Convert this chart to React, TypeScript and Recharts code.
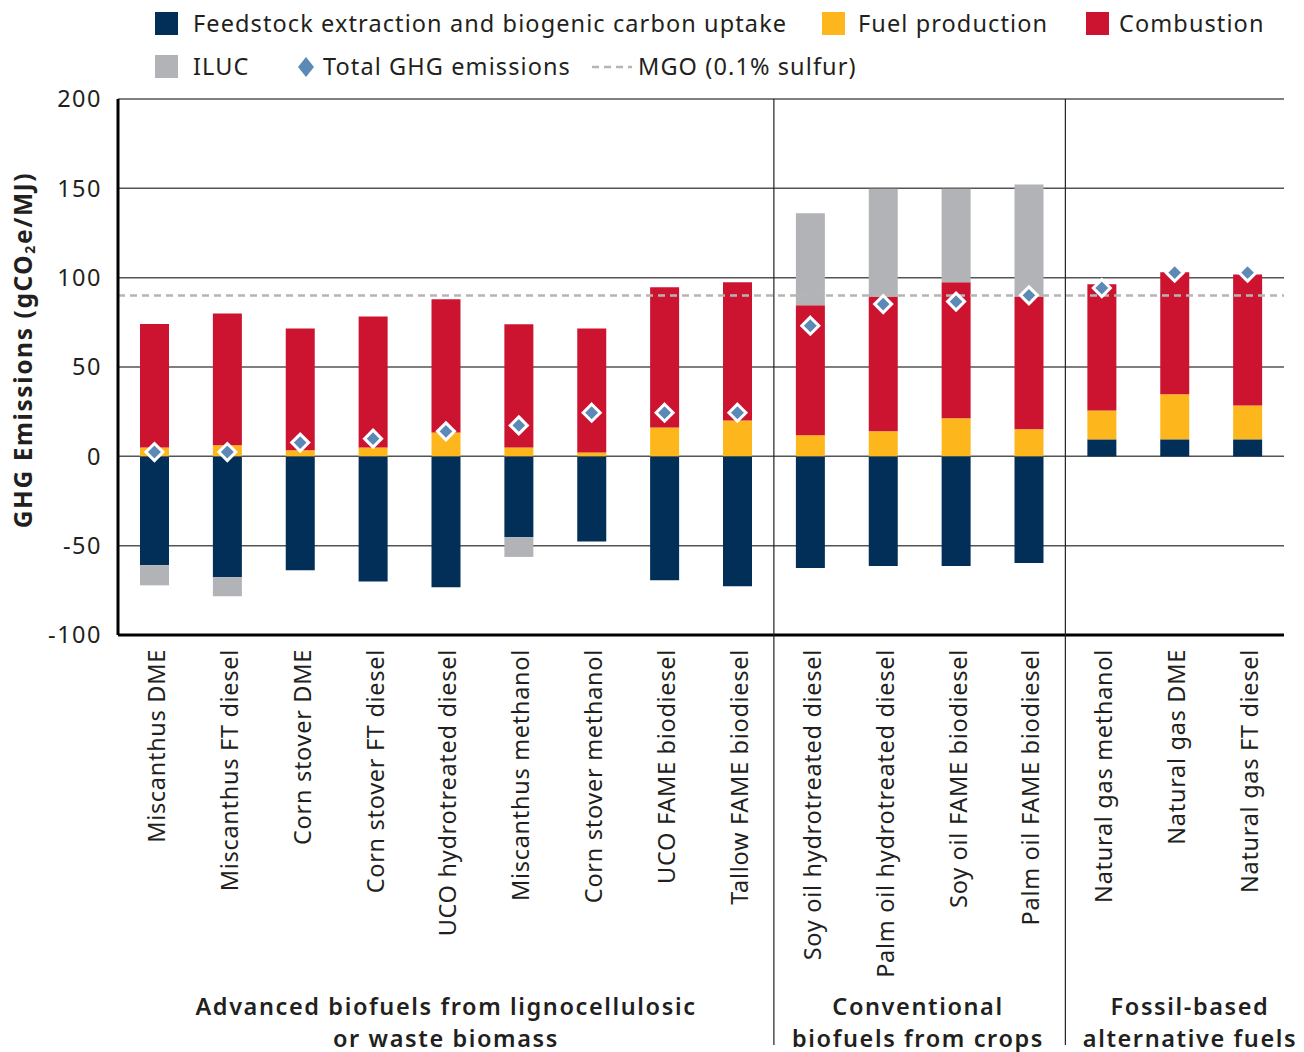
import React from 'react';
import {
  ComposedChart,
  Bar,
  Line,
  XAxis,
  YAxis,
  CartesianGrid,
  ReferenceLine,
} from 'recharts';

const categories = [
  'Miscanthus DME',
  'Miscanthus FT diesel',
  'Corn stover DME',
  'Corn stover FT diesel',
  'UCO hydrotreated diesel',
  'Miscanthus methanol',
  'Corn stover methanol',
  'UCO FAME biodiesel',
  'Tallow FAME biodiesel',
  'Soy oil hydrotreated diesel',
  'Palm oil hydrotreated diesel',
  'Soy oil FAME biodiesel',
  'Palm oil FAME biodiesel',
  'Natural gas methanol',
  'Natural gas DME',
  'Natural gas FT diesel',
];

const feedstock = [-61, -67.7, -63.8, -70, -73.3, -45.3, -47.6, -69.4, -72.7, -62.5, -61.4, -61.4, -59.7, 9.5, 9.5, 9.5];
const fuelProduction = [5, 6.2, 3.4, 5, 13.4, 5, 2.2, 16.2, 20.1, 11.8, 14, 21.3, 15.1, 16.2, 25.2, 19];
const combustion = [69, 73.8, 68.2, 73.3, 74.5, 68.9, 69.4, 78.4, 77.3, 72.7, 75.5, 76.1, 74.4, 70.6, 68.3, 73.3];
const iluc = [-11.2, -10.6, 0, 0, 0, -11, 0, 0, 0, 51.5, 60.3, 52.4, 62.7, 0, 0, 0];
const totalGhg = [2.4, 2.4, 7.7, 9.9, 14, 17.3, 24.4, 24.4, 24.4, 73.1, 85.2, 86.6, 90.1, 94.2, 102.8, 102.8];

const yTicks = [-100, -50, 0, 50, 100, 150, 200];
const mgoLevel = 90;

// index of the last category in each group
const groupEnds = [8, 12];
const groupLabels = [
  ['Advanced biofuels from lignocellulosic', 'or waste biomass'],
  ['Conventional', 'biofuels from crops'],
  ['Fossil-based', 'alternative fuels'],
];
const groupCenters = [446, 918, 1190];

const NAVY = '#022f58';
const YELLOW = '#fdb71c';
const RED = '#cc1430';
const GREY = '#b1b3b6';
const DIAMOND = '#5b8ab6';
const FONT = '"Noto Sans", sans-serif';
const TEXT = '#231f20';

const W = 1304;
const H = 1052;
const margin = { top: 99, right: 20, bottom: 0, left: 0 };
const yAxisWidth = 118;
const xAxisHeight = 417;
const plotWidth = W - margin.left - margin.right - yAxisWidth;

const chartData = categories.map((name, i) => ({
  name,
  feedstock: feedstock[i],
  fuel: fuelProduction[i],
  combustion: combustion[i],
  iluc: iluc[i],
  total: totalGhg[i],
}));

const Diamond = (props: any) => {
  const { cx, cy, index } = props;
  if (cx == null || cy == null) return null;
  const r = 8.5;
  return (
    <path
      key={`d-${index}`}
      d={`M${cx},${cy - r} L${cx + r},${cy} L${cx},${cy + r} L${cx - r},${cy} Z`}
      fill={DIAMOND}
      stroke="#fff"
      strokeWidth={3}
    />
  );
};

const CategoryTick = (props: any) => {
  const { x, y, payload, index } = props;
  const half = plotWidth / categories.length / 2;
  return (
    <g>
      <text
        transform={`translate(${x + 2},${y + 6}) rotate(-90)`}
        textAnchor="end"
        dy="0.36em"
        fontSize={23.5}
        letterSpacing={0.7}
        fontFamily={FONT}
        fill={TEXT}
      >
        {payload.value}
      </text>
      {groupEnds.includes(index) && (
        <line
          x1={x + half}
          x2={x + half}
          y1={margin.top}
          y2={1045}
          stroke="#222"
          strokeWidth={1.2}
        />
      )}
    </g>
  );
};

const ValueTick = (props: any) => {
  const { x, y, payload } = props;
  return (
    <text
      x={x - 8}
      y={y}
      dy="0.36em"
      textAnchor="end"
      fontSize={23.5}
      letterSpacing={1.5}
      fontFamily={FONT}
      fill={TEXT}
    >
      {payload.value}
    </text>
  );
};

const legendText: React.CSSProperties = {
  position: 'absolute',
  fontFamily: FONT,
  fontSize: 23.5,
  letterSpacing: 1.1,
  color: TEXT,
  lineHeight: '26px',
  whiteSpace: 'nowrap',
};

const Swatch = ({ left, top, color }: { left: number; top: number; color: string }) => (
  <div style={{ position: 'absolute', left, top, width: 23, height: 23, background: color }} />
);

export default function App() {
  return (
    <div style={{ position: 'absolute', left: 0, top: 0, width: W, height: H, background: '#fff' }}>
      <ComposedChart
        width={W}
        height={H}
        data={chartData}
        margin={margin}
        stackOffset="sign"
        barSize={29}
      >
        <CartesianGrid vertical={false} stroke="#555" strokeWidth={1.5} />
        <XAxis
          dataKey="name"
          height={xAxisHeight}
          interval={0}
          tickLine={false}
          axisLine={{ stroke: '#000', strokeWidth: 3 }}
          tick={<CategoryTick />}
        />
        <YAxis
          width={yAxisWidth}
          domain={[-100, 200]}
          ticks={yTicks}
          interval={0}
          tickLine={false}
          axisLine={{ stroke: '#000', strokeWidth: 3 }}
          tick={<ValueTick />}
        />
        <ReferenceLine y={mgoLevel} stroke="#b5b5b5" strokeWidth={2.5} strokeDasharray="7 5" />
        <Bar dataKey="feedstock" stackId="a" fill={NAVY} isAnimationActive={false} />
        <Bar dataKey="fuel" stackId="a" fill={YELLOW} isAnimationActive={false} />
        <Bar dataKey="combustion" stackId="a" fill={RED} isAnimationActive={false} />
        <Bar dataKey="iluc" stackId="a" fill={GREY} isAnimationActive={false} />
        <Line
          dataKey="total"
          stroke="none"
          dot={<Diamond />}
          activeDot={false}
          isAnimationActive={false}
        />
      </ComposedChart>

      {/* legend */}
      <Swatch left={155} top={12} color={NAVY} />
      <div style={{ ...legendText, left: 193, top: 10 }}>Feedstock extraction and biogenic carbon uptake</div>
      <Swatch left={822} top={12} color={YELLOW} />
      <div style={{ ...legendText, left: 858, top: 10 }}>Fuel production</div>
      <Swatch left={1086} top={12} color={RED} />
      <div style={{ ...legendText, left: 1119, top: 10 }}>Combustion</div>
      <Swatch left={155} top={55} color={GREY} />
      <div style={{ ...legendText, left: 193, top: 53 }}>ILUC</div>
      <svg style={{ position: 'absolute', left: 296, top: 56 }} width={20} height={22}>
        <path d="M10,1 L18,11 L10,21 L2,11 Z" fill={DIAMOND} />
      </svg>
      <div style={{ ...legendText, left: 323, top: 53 }}>Total GHG emissions</div>
      <svg style={{ position: 'absolute', left: 592, top: 62 }} width={40} height={10}>
        <line x1={0} x2={40} y1={5} y2={5} stroke="#b5b5b5" strokeWidth={2.5} strokeDasharray="7 5" />
      </svg>
      <div style={{ ...legendText, left: 638, top: 53 }}>MGO (0.1% sulfur)</div>

      {/* y axis title */}
      <div
        style={{
          position: 'absolute',
          left: 23 - 250,
          top: 350 - 16,
          width: 500,
          height: 32,
          lineHeight: '32px',
          textAlign: 'center',
          transform: 'rotate(-90deg)',
          fontFamily: FONT,
          fontWeight: 700,
          fontSize: 24.5,
          letterSpacing: 1.6,
          color: TEXT,
          whiteSpace: 'nowrap',
        }}
      >
        GHG Emissions (gCO<sub style={{ fontSize: 14, verticalAlign: -3 }}>2</sub>e/MJ)
      </div>

      {/* group titles */}
      {groupLabels.map((lines, g) => (
        <div
          key={g}
          style={{
            position: 'absolute',
            left: groupCenters[g] - 300,
            top: 990,
            width: 600,
            textAlign: 'center',
            fontFamily: FONT,
            fontWeight: 600,
            fontSize: 23.5,
            letterSpacing: 1.6,
            lineHeight: '32px',
            color: TEXT,
            whiteSpace: 'nowrap',
          }}
        >
          {lines.map((l) => (
            <div key={l}>{l}</div>
          ))}
        </div>
      ))}
    </div>
  );
}
